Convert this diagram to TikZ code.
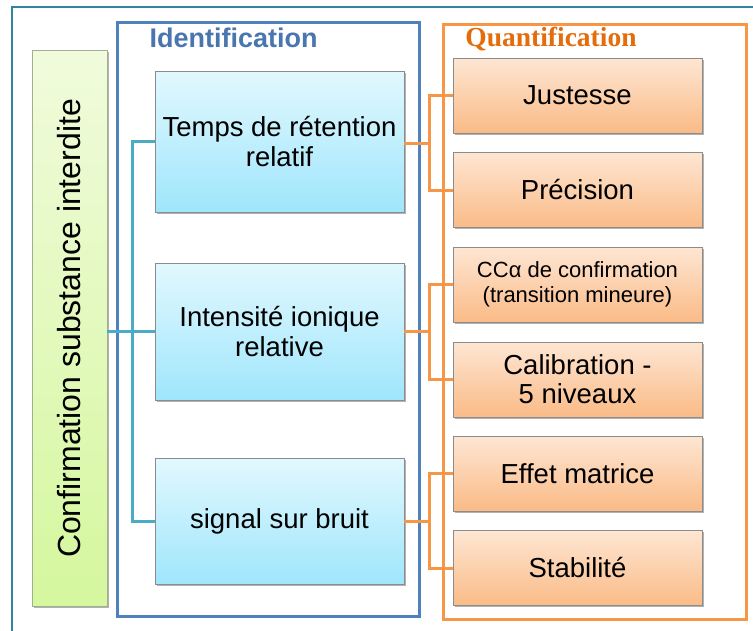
\documentclass[tikz,border=0pt]{standalone}
\usepackage{fontspec}
\setmainfont{Liberation Sans}
\newfontfamily\titleserif{Liberation Serif}
\usetikzlibrary{shadows}
\definecolor{frameteal}{HTML}{31859C}
\definecolor{idblue}{HTML}{4F81BD}
\definecolor{idtext}{HTML}{4A76B0}
\definecolor{qorange}{HTML}{F79646}
\definecolor{qtext}{HTML}{E46C0A}
\definecolor{conteal}{HTML}{4BACC6}
\definecolor{boxgray}{HTML}{8C8C8C}
\definecolor{cyantop}{HTML}{E2F8FE}
\definecolor{cyanbot}{HTML}{9FE6FC}
\definecolor{orgtop}{HTML}{FEE6D3}
\definecolor{orgbot}{HTML}{FABB87}
\definecolor{grntop}{HTML}{F0FBDC}
\definecolor{grnbot}{HTML}{D5F79E}
\definecolor{grnborder}{HTML}{A3AD8F}
\begin{document}
\begin{tikzpicture}[x=1pt,y=-1pt,
  box/.style={draw=boxgray, line width=0.8pt, inner sep=0pt, outer sep=0pt, align=center,
    drop shadow={shadow xshift=1.5pt,shadow yshift=-1.8pt,opacity=0.3,fill=black}},
  cyanbox/.style={box, minimum width=249pt, top color=cyantop, bottom color=cyanbot,
    font=\fontsize{27.5}{30}\selectfont},
  orgbox/.style={box, minimum width=249pt, minimum height=75pt, top color=orgtop, bottom color=orgbot,
    font=\fontsize{27.5}{29}\selectfont},
  frame/.style={draw, line width=3pt, inner sep=0pt, outer sep=0pt},
  tconn/.style={draw=conteal, line width=3pt},
  oconn/.style={draw=qorange, line width=3pt}]
\useasboundingbox (0,0) rectangle (753,630);
\fill[white] (0,0) rectangle (753,630);
% outer frame
\coordinate (fbl) at (12,632);
\coordinate (ftl) at (12,7);
\coordinate (ftr) at (755,7);
\draw[frameteal, line width=1.8pt] (fbl) -- (ftl) -- (ftr);
% group frames
\node[frame, draw=idblue, minimum width=302pt, minimum height=594pt] (idframe) at (268,319) {};
\node[frame, draw=qorange, minimum width=303pt, minimum height=595pt] (qframe) at (594.5,321.5) {};
\node[text=idtext, font=\fontsize{27}{30}\selectfont\bfseries] (idtitle) at (233.5,38) {Identification};
\node[text=qtext, font=\fontsize{27.5}{30}\selectfont\titleserif\bfseries] (qtitle) at (551,39) {Quantification};
% left green box
\node[box, draw=grnborder, minimum width=75pt, minimum height=556pt, top color=grntop, bottom color=grnbot] (conf) at (69.5,328) {};
\node[rotate=90, font=\fontsize{32}{34}\selectfont] (conftext) at (69.5,328.5) {Confirmation substance interdite};
% cyan boxes
\node[cyanbox, minimum height=141pt] (c1) at (279.5,141.5) {Temps de rétention\\relatif};
\node[cyanbox, minimum height=137pt] (c2) at (279.5,331.5) {Intensité ionique\\relative};
\node[cyanbox, minimum height=126pt] (c3) at (279.5,521) {signal sur bruit};
% orange boxes
\node[orgbox] (o1) at (577.5,95.5) {Justesse};
\node[orgbox] (o2) at (577.5,190) {Précision};
\node[orgbox, font=\fontsize{22}{25}\selectfont] (o3) at (577.5,284.5) {CCα de confirmation\\(transition mineure)};
\node[orgbox] (o4) at (577.5,379.5) {Calibration -\\5 niveaux};
\node[orgbox] (o5) at (577.5,473.5) {Effet matrice};
\node[orgbox] (o6) at (577.5,568) {Stabilité};
% teal connectors
\coordinate (tj) at (132,331.5);
\draw[tconn] (conf.east |- c2.west) -- (c2.west);
\draw[tconn] (c1.west) -| (tj) |- (c3.west);
% orange connectors
\coordinate (oj1) at (429,143);
\coordinate (oj2) at (429,331.5);
\coordinate (oj3) at (429,521);
\draw[oconn] (c1.east |- oj1) -- (oj1);
\draw[oconn] (o1.west) -| (oj1) |- (o2.west);
\draw[oconn] (c2.east) -- (oj2);
\draw[oconn] (o3.west) -| (oj2) |- (o4.west);
\draw[oconn] (c3.east) -- (oj3);
\draw[oconn] (o5.west) -| (oj3) |- (o6.west);
\end{tikzpicture}
\end{document}
